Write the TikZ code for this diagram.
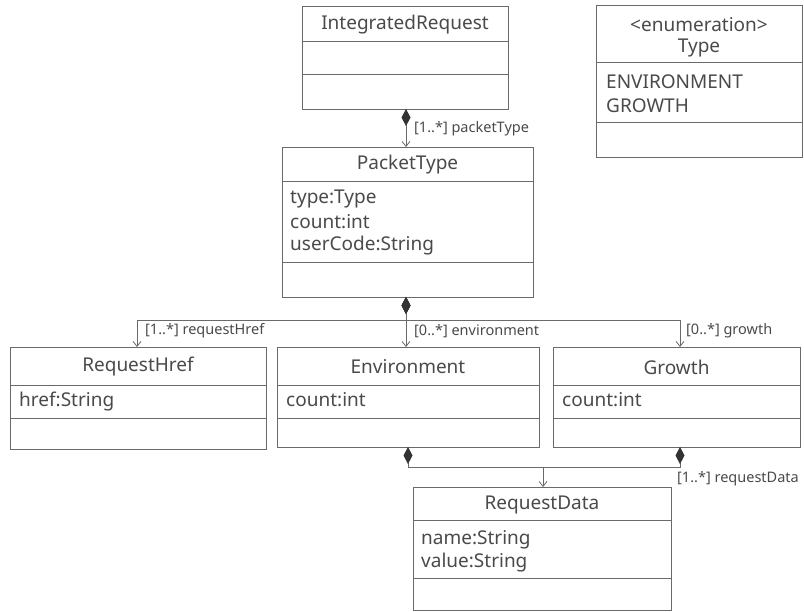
\documentclass[tikz,border=0pt]{standalone}
\usepackage{fontspec}
\setmainfont{Noto Sans}
\usetikzlibrary{arrows.meta,calc}
\definecolor{linec}{HTML}{6A6A6A}
\definecolor{txtc}{HTML}{4A4A4A}
\begin{document}
\begin{tikzpicture}[x=1pt,y=-1pt,
  cls/.style={draw=linec, line width=1.1pt, fill=white, inner sep=0pt, anchor=north west},
  divline/.style={draw=linec, line width=1pt},
  title/.style={text=txtc, font=\fontsize{19}{21}\selectfont, inner sep=0pt},
  attr/.style={text=txtc, font=\fontsize{19}{21}\selectfont, inner sep=0pt, anchor=west},
  role/.style={text=txtc, font=\fontsize{14.5}{16}\selectfont, inner sep=0pt, anchor=west},
  comp/.style={draw=linec, line width=0.8pt,
    {Diamond[length=17pt,width=9pt,fill=black!80,color=black!80]}-{Straight Barb[length=5pt,width=8pt]}},
  compnoarrow/.style={draw=linec, line width=0.8pt,
    {Diamond[length=17pt,width=9pt,fill=black!80,color=black!80]}-}]
\useasboundingbox (0,0) rectangle (804,612);
\fill[white] (0,0) rectangle (804,612);

% IntegratedRequest
\node[cls, minimum width=206pt, minimum height=103pt] (ir) at (302,6) {};
\draw[divline] ($(ir.north west)+(0,36)$) -- ($(ir.north east)+(0,36)$);
\draw[divline] ($(ir.north west)+(0,69)$) -- ($(ir.north east)+(0,69)$);
\node[title] (irt) at (405,25) {IntegratedRequest};

% Enumeration Type
\node[cls, minimum width=206pt, minimum height=152pt] (ty) at (596,5) {};
\draw[divline] ($(ty.north west)+(0,58)$) -- ($(ty.north east)+(0,58)$);
\draw[divline] ($(ty.north west)+(0,118)$) -- ($(ty.north east)+(0,118)$);
\node[title] (tys) at (699,25) {<enumeration>};
\node[title] (tyt) at (699,48) {Type};
\node[attr] (ty1) at (606,82) {ENVIRONMENT};
\node[attr] (ty2) at (606,106) {GROWTH};

% PacketType
\node[cls, minimum width=251pt, minimum height=150pt] (pt) at (282,147) {};
\draw[divline] ($(pt.north west)+(0,35)$) -- ($(pt.north east)+(0,35)$);
\draw[divline] ($(pt.north west)+(0,116)$) -- ($(pt.north east)+(0,116)$);
\node[title] (ptt) at (407.5,165) {PacketType};
\node[attr] (pt1) at (290,199) {type:Type};
\node[attr] (pt2) at (290,222) {count:int};
\node[attr] (pt3) at (290,246) {userCode:String};

% RequestHref
\node[cls, minimum width=256pt, minimum height=102pt] (rh) at (10,347) {};
\draw[divline] ($(rh.north west)+(0,39)$) -- ($(rh.north east)+(0,39)$);
\draw[divline] ($(rh.north west)+(0,72)$) -- ($(rh.north east)+(0,72)$);
\node[title] (rht) at (138,367) {RequestHref};
\node[attr] (rh1) at (19,402) {href:String};

% Environment
\node[cls, minimum width=262pt, minimum height=100pt] (en) at (277,347) {};
\draw[divline] ($(en.north west)+(0,39)$) -- ($(en.north east)+(0,39)$);
\draw[divline] ($(en.north west)+(0,72)$) -- ($(en.north east)+(0,72)$);
\node[title] (ent) at (408,367) {Environment};
\node[attr] (en1) at (286,400) {count:int};

% Growth
\node[cls, minimum width=247pt, minimum height=100pt] (gr) at (553,347) {};
\draw[divline] ($(gr.north west)+(0,39)$) -- ($(gr.north east)+(0,39)$);
\draw[divline] ($(gr.north west)+(0,72)$) -- ($(gr.north east)+(0,72)$);
\node[title] (grt) at (676.5,367) {Growth};
\node[attr] (gr1) at (562,400) {count:int};

% RequestData
\node[cls, minimum width=258pt, minimum height=123pt] (rd) at (413,487) {};
\draw[divline] ($(rd.north west)+(0,33)$) -- ($(rd.north east)+(0,33)$);
\draw[divline] ($(rd.north west)+(0,91)$) -- ($(rd.north east)+(0,91)$);
\node[title] (rdt) at (542,505) {RequestData};
\node[attr] (rd1) at (421,540) {name:String};
\node[attr] (rd2) at (421,563) {value:String};

% Connectors
\coordinate (irs) at (406,109);
\coordinate (ptn) at (406,147);
\draw[comp] (irs) -- (ptn);
\node[role] (l1) at (414,129) {[1..*] packetType};

\coordinate (pts) at (406,297);
\coordinate (bus) at (406,320);
\coordinate (rhn) at (137,347);
\coordinate (enn) at (406,347);
\coordinate (grn) at (680,347);
\draw[comp] (pts) -- (bus) -| (rhn);
\draw[comp] (pts) -- (enn);
\draw[comp] (pts) -- (bus) -| (grn);
\node[role] (l2) at (145,331) {[1..*] requestHref};
\node[role] (l3) at (414,331) {[0..*] environment};
\node[role] (l4) at (686,331) {[0..*] growth};

\coordinate (ens) at (408,447);
\coordinate (grs) at (680,447);
\coordinate (jn) at (543,467);
\coordinate (rdn) at (543,487);
\draw[compnoarrow] (ens) |- (jn);
\draw[compnoarrow] (grs) |- (jn);
\draw[draw=linec, line width=0.8pt, -{Straight Barb[length=5pt,width=8pt]}] (jn) -- (rdn);
\node[role] (l5) at (677,479) {[1..*] requestData};
\end{tikzpicture}
\end{document}
